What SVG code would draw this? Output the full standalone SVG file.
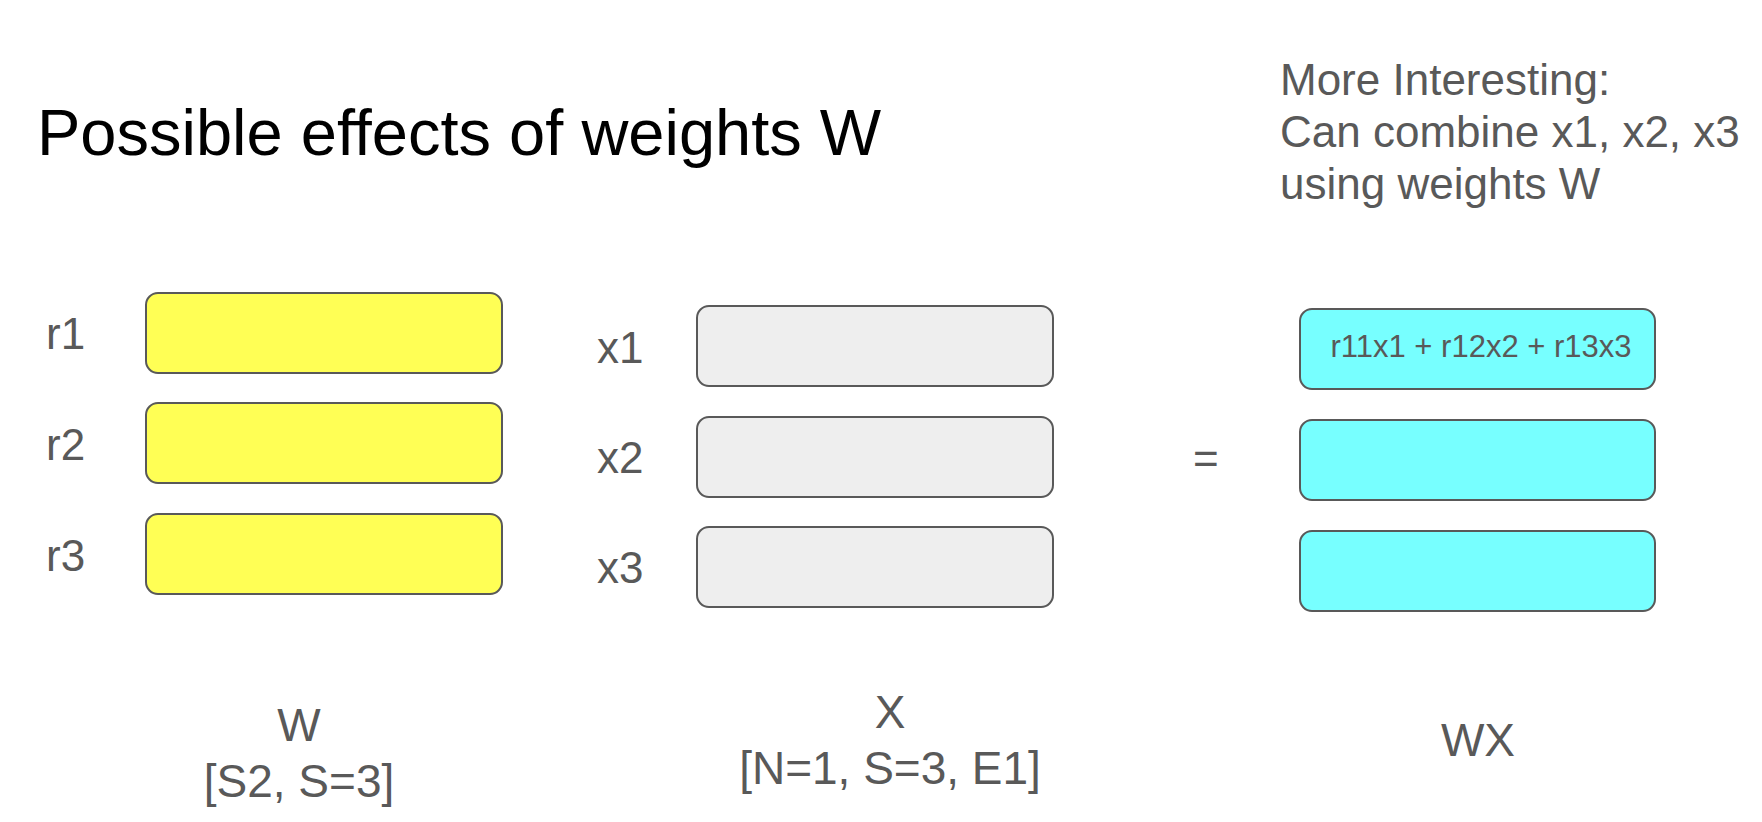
<svg xmlns="http://www.w3.org/2000/svg" width="1762" height="822" viewBox="0 0 1762 822">
<style>
text{font-family:"Liberation Sans",Arial,sans-serif;fill:#595959;font-size:44px}
.title{fill:#000000;font-size:65px}
.mid{text-anchor:middle}
.big{font-size:46px}
.box{stroke:#595959;stroke-width:2}
.w{fill:#ffff55}
.x{fill:#eeeeee}
.c{fill:#77ffff}
</style>
<rect width="1762" height="822" fill="#ffffff"/>
<g id="title"><text class="title" x="37" y="155">Possible effects of weights W</text></g>
<g id="note">
<text x="1280" y="95">More Interesting:</text>
<text x="1280" y="147">Can combine x1, x2, x3</text>
<text x="1280" y="199">using weights W</text>
</g>
<g id="connectors"/>
<g id="W">
<g id="r1"><text x="46" y="349">r1</text><rect class="box w" x="146" y="293" width="356" height="80" rx="12"/></g>
<g id="r2"><text x="46" y="460">r2</text><rect class="box w" x="146" y="403" width="356" height="80" rx="12"/></g>
<g id="r3"><text x="46" y="571">r3</text><rect class="box w" x="146" y="514" width="356" height="80" rx="12"/></g>
<text class="mid big" x="299" y="741">W</text>
<text class="mid big" x="299" y="797">[S2, S=3]</text>
</g>
<g id="X">
<g id="x1"><text x="597" y="363">x1</text><rect class="box x" x="697" y="306" width="356" height="80" rx="12"/></g>
<g id="x2"><text x="597" y="473">x2</text><rect class="box x" x="697" y="417" width="356" height="80" rx="12"/></g>
<g id="x3"><text x="597" y="583">x3</text><rect class="box x" x="697" y="527" width="356" height="80" rx="12"/></g>
<text class="mid big" x="890" y="728">X</text>
<text class="mid big" x="890" y="784">[N=1, S=3, E1]</text>
</g>
<g id="equals"><text x="1193" y="474">=</text></g>
<g id="WX">
<g id="wx1"><rect class="box c" x="1300" y="309" width="355" height="80" rx="12"/><text class="mid" x="1481" y="357" style="font-size:31px">r11x1 + r12x2 + r13x3</text></g>
<g id="wx2"><rect class="box c" x="1300" y="420" width="355" height="80" rx="12"/></g>
<g id="wx3"><rect class="box c" x="1300" y="531" width="355" height="80" rx="12"/></g>
<text class="mid big" x="1478" y="756">WX</text>
</g>
</svg>
